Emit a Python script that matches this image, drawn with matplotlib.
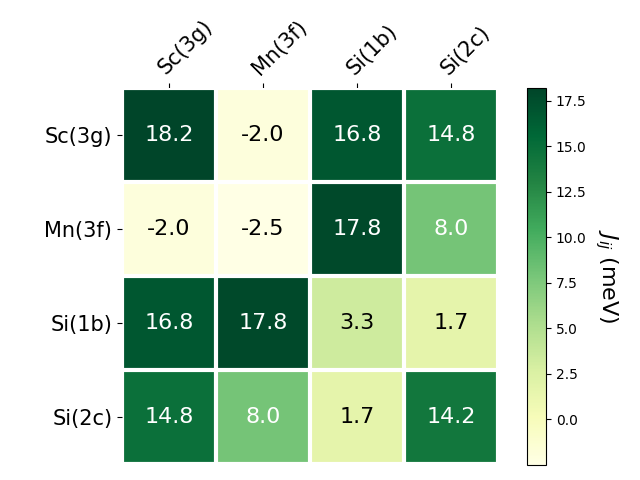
import numpy as np
import matplotlib
matplotlib.use("Agg")
import matplotlib.pyplot as plt

sites = ["Sc(3g)", "Mn(3f)", "Si(1b)", "Si(2c)"]
jij = np.array([
    [18.2, -2.0, 16.8, 14.8],
    [-2.0, -2.5, 17.8, 8.0],
    [16.8, 17.8, 3.3, 1.7],
    [14.8, 8.0, 1.7, 14.2],
])
cbar_ticks = [0.0, 2.5, 5.0, 7.5, 10.0, 12.5, 15.0, 17.5]

fig = plt.figure(figsize=(6.4, 4.8), dpi=100)
ax = fig.add_axes([122 / 640, 16 / 480, 376 / 640, 376 / 480])
cax = fig.add_axes([527 / 640, 15 / 480, 19 / 640, 377 / 480])

im = ax.imshow(jij, cmap="YlGn", vmin=jij.min(), vmax=jij.max())
cbar = fig.colorbar(im, cax=cax, ticks=cbar_ticks)
cbar.set_label("$J_{ij}$ (meV)", rotation=270, labelpad=24, fontsize=16)

ax.set_xticks(np.arange(len(sites)))
ax.set_yticks(np.arange(len(sites)))
ax.set_xticklabels(sites, fontsize=15)
ax.set_yticklabels(sites, fontsize=15)
ax.xaxis.tick_top()
plt.setp(ax.get_xticklabels(), rotation=45, ha="left", rotation_mode="anchor")

# white separators between cells
ax.set_xticks(np.arange(len(sites) + 1) - 0.5, minor=True)
ax.set_yticks(np.arange(len(sites) + 1) - 0.5, minor=True)
ax.grid(which="minor", color="w", linestyle="-", linewidth=3)
ax.tick_params(which="minor", top=False, left=False, bottom=False)
for s in ax.spines.values():
    s.set_visible(False)

for i in range(len(sites)):
    for j in range(len(sites)):
        v = jij[i, j]
        ax.text(j, i, f"{v:.1f}", ha="center", va="center", fontsize=16,
                color="w" if v > 7 else "k")

fig.savefig("out.png", dpi=100)
